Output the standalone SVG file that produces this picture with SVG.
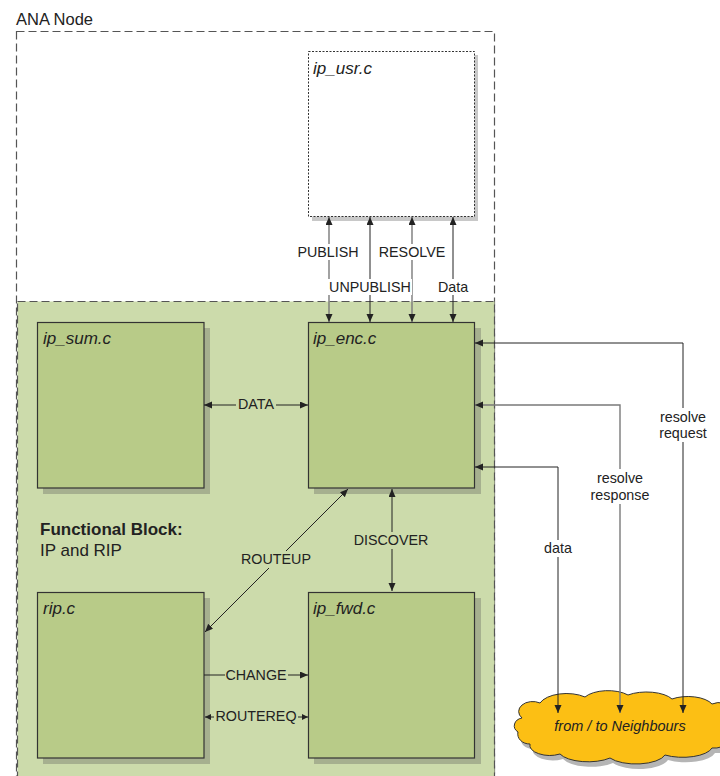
<svg xmlns="http://www.w3.org/2000/svg" width="720" height="776" viewBox="0 0 720 776">
<style>
  .frame{fill:none;stroke:#555;stroke-width:1.2;stroke-dasharray:8,4}
  .box{fill:#b8cb88;stroke:#333;stroke-width:1.2}
  .shadow{fill:#a6b08f}
  .nlabel{font-family:"Liberation Sans",Arial,sans-serif;font-size:17px;font-style:italic;fill:#222}
  .clabel{font-family:"Liberation Sans",Arial,sans-serif;font-size:14.3px;fill:#222;text-anchor:middle}
  .dk{fill:none;stroke:#222;stroke-width:1}
  .gy{fill:none;stroke:#7a7a7a;stroke-width:1.4}
  .bgw{fill:#fff}
  .bgg{fill:#ccdbab}
</style>
<defs>
  <marker id="ad" markerUnits="userSpaceOnUse" markerWidth="10" markerHeight="8" refX="8" refY="3.5" orient="auto-start-reverse"><path d="M0,0 L8,3.5 L0,7 z" fill="#222"/></marker>
  <marker id="ag" markerUnits="userSpaceOnUse" markerWidth="10" markerHeight="8" refX="8" refY="3.5" orient="auto-start-reverse"><path d="M0,0 L8,3.5 L0,7 z" fill="#222"/></marker>
  <marker id="as" markerUnits="userSpaceOnUse" markerWidth="8" markerHeight="8" refX="6" refY="3" orient="auto-start-reverse"><path d="M0,0 L6,3 L0,6 z" fill="#222"/></marker>
</defs>
<rect width="720" height="776" fill="#fff"/>

<g id="ana-node">
  <rect class="frame" x="16.5" y="31.5" width="478" height="780"/>
  <text x="16" y="25" font-family="Liberation Sans,Arial,sans-serif" font-size="16.5" fill="#222">ANA Node</text>
</g>

<g id="functional-block">
  <rect x="17.5" y="301.5" width="477" height="500" fill="#ccdbab" stroke="#555" stroke-width="1.2" stroke-dasharray="8,4"/>
  <text x="40" y="535" font-family="Liberation Sans,Arial,sans-serif" font-size="17" font-weight="bold" fill="#222">Functional Block:</text>
  <text x="40" y="556" font-family="Liberation Sans,Arial,sans-serif" font-size="17" fill="#222">IP and RIP</text>
</g>

<g id="ip_usr">
  <rect x="312" y="55" width="166" height="166" fill="#c8c8c8"/>
  <rect x="308.5" y="51.5" width="166" height="165" fill="#fff" stroke="#333" stroke-width="1" stroke-dasharray="2,1.5"/>
  <text class="nlabel" x="313" y="74">ip_usr.c</text>
</g>

<g id="ip_sum">
  <rect class="shadow" x="43" y="328" width="167" height="166"/>
  <rect class="box" x="37.5" y="322.5" width="166.5" height="165.5"/>
  <text class="nlabel" x="43" y="344">ip_sum.c</text>
</g>

<g id="ip_enc">
  <rect class="shadow" x="314" y="328" width="167" height="166"/>
  <rect class="box" x="308.5" y="322.5" width="166" height="165.5"/>
  <text class="nlabel" x="313" y="344">ip_enc.c</text>
</g>

<g id="rip">
  <rect class="shadow" x="43" y="598" width="167" height="166"/>
  <rect class="box" x="37.5" y="592.5" width="166.5" height="165.5"/>
  <text class="nlabel" x="43" y="614">rip.c</text>
</g>

<g id="ip_fwd">
  <rect class="shadow" x="314" y="598" width="167" height="166"/>
  <rect class="box" x="308.5" y="592.5" width="166" height="165.5"/>
  <text class="nlabel" x="313" y="614">ip_fwd.c</text>
</g>

<g id="neighbours">
  <path transform="translate(3,5)" fill="#b5b5b5" d="M522,718 A14,10 0 0 1 540,703 A28,14 0 0 1 585,697 A26,12 0 0 1 628,695 A28,12 0 0 1 672,699 A26,12 0 0 1 712,704 A14,12 0 0 1 726,728 A16,12 0 0 1 712,748 A30,12 0 0 1 665,755 A30,12 0 0 1 610,758 A30,12 0 0 1 560,754 A20,10 0 0 1 530,744 A12,10 0 0 1 518,732 A10,8 0 0 1 522,718 Z"/>
  <path fill="#fcbf14" stroke="#333" stroke-width="1" d="M522,718 A14,10 0 0 1 540,703 A28,14 0 0 1 585,697 A26,12 0 0 1 628,695 A28,12 0 0 1 672,699 A26,12 0 0 1 712,704 A14,12 0 0 1 726,728 A16,12 0 0 1 712,748 A30,12 0 0 1 665,755 A30,12 0 0 1 610,758 A30,12 0 0 1 560,754 A20,10 0 0 1 530,744 A12,10 0 0 1 518,732 A10,8 0 0 1 522,718 Z"/>
  <text x="620" y="731" font-family="Liberation Sans,Arial,sans-serif" font-size="14.5" font-style="italic" fill="#222" text-anchor="middle">from / to Neighbours</text>
</g>

<g id="connectors">
  <!-- ip_usr <-> ip_enc -->
  <line class="gy" x1="329" y1="217" x2="329" y2="322" marker-start="url(#ad)" marker-end="url(#ad)"/>
  <line class="dk" x1="370" y1="217" x2="370" y2="322" marker-start="url(#ad)" marker-end="url(#ad)"/>
  <line class="gy" x1="412" y1="217" x2="412" y2="322" marker-start="url(#ad)" marker-end="url(#ad)"/>
  <line class="dk" x1="453" y1="217" x2="453" y2="322" marker-start="url(#ad)" marker-end="url(#ad)"/>
  <rect class="bgw" x="297" y="244" width="64" height="16"/>
  <text class="clabel" x="328" y="257">PUBLISH</text>
  <rect class="bgw" x="377" y="244" width="70" height="16"/>
  <text class="clabel" x="412" y="257">RESOLVE</text>
  <rect class="bgw" x="328" y="279" width="84" height="16"/>
  <text class="clabel" x="370" y="292">UNPUBLISH</text>
  <rect class="bgw" x="437" y="279" width="32" height="16"/>
  <text class="clabel" x="453" y="292">Data</text>

  <!-- DATA -->
  <line class="dk" x1="204" y1="405" x2="308" y2="405" marker-start="url(#ad)" marker-end="url(#ad)"/>
  <rect class="bgg" x="236" y="397" width="40" height="16"/>
  <text class="clabel" x="256" y="409">DATA</text>

  <!-- ROUTEUP -->
  <line class="dk" x1="348" y1="489" x2="205" y2="632" marker-start="url(#ad)" marker-end="url(#ad)"/>
  <rect class="bgg" x="240" y="551" width="72" height="17"/>
  <text class="clabel" x="276" y="564">ROUTEUP</text>

  <!-- DISCOVER -->
  <line class="dk" x1="392" y1="489" x2="392" y2="591" marker-start="url(#ad)" marker-end="url(#ad)"/>
  <rect class="bgg" x="353" y="532" width="78" height="17"/>
  <text class="clabel" x="391" y="545">DISCOVER</text>

  <!-- CHANGE -->
  <line class="dk" x1="204" y1="675" x2="308" y2="675" marker-end="url(#ad)"/>
  <rect class="bgg" x="225" y="667" width="63" height="16"/>
  <text class="clabel" x="256" y="680">CHANGE</text>

  <!-- ROUTEREQ -->
  <line class="dk" x1="205" y1="717" x2="308" y2="717" marker-start="url(#as)" marker-end="url(#as)"/>
  <rect class="bgg" x="214" y="709" width="84" height="16"/>
  <text class="clabel" x="256" y="721">ROUTEREQ</text>

  <!-- right side to neighbours -->
  <path class="dk" d="M475,343 H683 V713" marker-start="url(#ad)" marker-end="url(#ad)"/>
  <path class="gy" d="M475,405 H620 V713" marker-start="url(#ad)" marker-end="url(#ad)"/>
  <path class="dk" d="M475,467 H558 V713" marker-start="url(#ad)" marker-end="url(#ad)"/>
  <rect class="bgw" x="656" y="408" width="54" height="34"/>
  <text class="clabel" x="683" y="422">resolve</text>
  <text class="clabel" x="683" y="438">request</text>
  <rect class="bgw" x="588" y="469" width="64" height="35"/>
  <text class="clabel" x="620" y="483">resolve</text>
  <text class="clabel" x="620" y="500">response</text>
  <rect class="bgw" x="543" y="540" width="30" height="17"/>
  <text class="clabel" x="558" y="553">data</text>
</g>
</svg>
